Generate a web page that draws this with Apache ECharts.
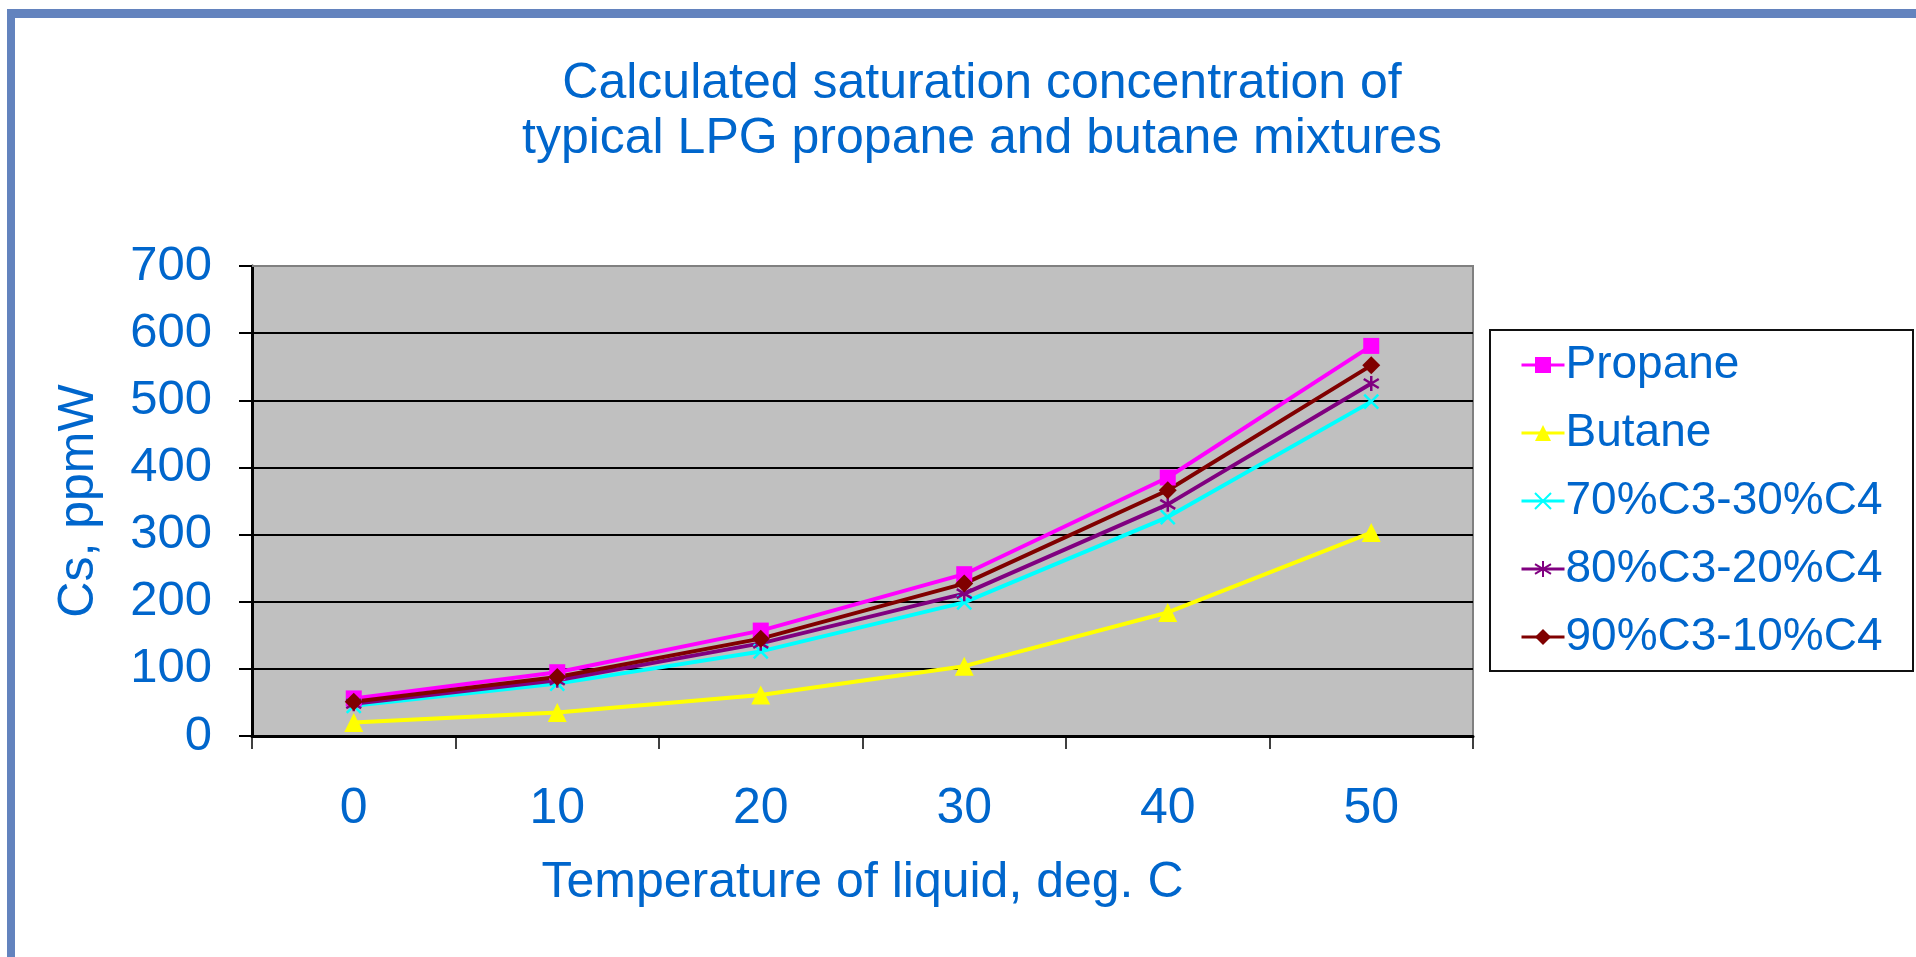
<!DOCTYPE html>
<html>
<head>
<meta charset="utf-8">
<title>LPG saturation concentration</title>
<script src="https://cdn.jsdelivr.net/npm/echarts@6/dist/echarts.min.js"></script>
<style>
  html, body { margin: 0; padding: 0; background: #fff; }
  #chart { width: 1916px; height: 957px; }
</style>
</head>
<body>
<div id="chart"></div>
<script>
// temperature of liquid, deg. C
const temps = ['0', '10', '20', '30', '40', '50']
// Cs, ppmW
const propane = [56, 95, 157, 241, 385, 581]
const butane = [20, 35, 61, 104, 184, 303]
const mix70 = [45, 78, 126, 199, 326, 498]
const mix80 = [48, 83, 138, 212, 345, 525]
const mix90 = [51, 88, 145, 227, 366, 552]

const blue = '#0066cc'
const font = "'Liberation Sans', Arial, sans-serif"

const chart = echarts.init(document.getElementById('chart'))

// one line series
function lineSeries(name, data, color, symbol, size, stroke) {
	return {
		name: name,
		type: 'line',
		data: data,
		symbol: symbol,
		symbolSize: size,
		lineStyle: { color: color, width: 4 },
		itemStyle: stroke
			? { color: color, borderColor: color, borderWidth: 2.5 }
			: { color: color },
		emphasis: { disabled: true },
		animation: false
	}
}

const option = {
	backgroundColor: '#fff',
	animation: false,
	graphic: [
		// blue frame, top and left
		{ type: 'rect', shape: { x: 7, y: 9, width: 1909, height: 9 }, style: { fill: '#6383be' } },
		{ type: 'rect', shape: { x: 7, y: 9, width: 8, height: 948 }, style: { fill: '#6383be' } },
		// title
		{
			type: 'text', x: 982, y: 57,
			style: {
				text: 'Calculated saturation concentration of\ntypical LPG propane and butane mixtures',
				font: '50px ' + font, fill: blue,
				textAlign: 'center', textVerticalAlign: 'top', lineHeight: 55
			}
		},
		// plot top border over the 700 grid line
		{ type: 'line', z: 100, shape: { x1: 252, y1: 266, x2: 1473, y2: 266 }, style: { stroke: '#808080', lineWidth: 2 } },
		// legend box
		{ type: 'rect', shape: { x: 1490, y: 330, width: 423, height: 341 }, style: { fill: '#fff', stroke: '#111', lineWidth: 2 } }
	],
	grid: {
		left: 252,
		right: 443,
		top: 266,
		bottom: 221,
		show: true,
		backgroundColor: '#c0c0c0',
		borderColor: '#808080',
		borderWidth: 2
	},
	legend: {
		orient: 'vertical',
		left: 1520,
		top: 342,
		padding: 0,
		itemWidth: 43,
		itemHeight: 20,
		itemGap: 22,
		lineStyle: { width: 3 },
		textStyle: { color: blue, fontSize: 46, fontFamily: font, padding: [0, 0, 0, -4] },
		data: ['Propane', 'Butane', '70%C3-30%C4', '80%C3-20%C4', '90%C3-10%C4']
	},
	xAxis: {
		type: 'category',
		data: temps,
		boundaryGap: true,
		name: 'Temperature of liquid, deg. C',
		nameLocation: 'middle',
		nameGap: 122,
		nameTextStyle: { color: blue, fontSize: 50, fontFamily: font },
		axisLine: { lineStyle: { color: '#000', width: 3 } },
		axisTick: { show: true, length: 13, lineStyle: { color: '#000', width: 1.5 } },
		axisLabel: { color: blue, fontSize: 50, fontFamily: font, margin: 48 },
		splitLine: { show: false }
	},
	yAxis: {
		type: 'value',
		min: 0,
		max: 700,
		interval: 100,
		name: 'Cs, ppmW',
		nameLocation: 'middle',
		nameGap: 148,
		nameTextStyle: { color: blue, fontSize: 50, fontFamily: font },
		axisLine: { show: true, lineStyle: { color: '#000', width: 3 } },
		axisTick: { show: true, length: 13, lineStyle: { color: '#000', width: 2 } },
		axisLabel: { color: blue, fontSize: 49, fontFamily: font, margin: 40 },
		splitLine: { show: true, lineStyle: { color: '#000', width: 2 } }
	},
	series: [
		lineSeries('Propane', propane, '#ff00ff', 'rect', 16),
		lineSeries('Butane', butane, '#ffff00', 'triangle', 19),
		lineSeries('70%C3-30%C4', mix70, '#00ffff', 'path://M0,0L10,10M10,0L0,10', 14, true),
		lineSeries('80%C3-20%C4', mix80, '#800080', 'path://M5,0L5,10M0,2L10,8M0,8L10,2', 15, true),
		lineSeries('90%C3-10%C4', mix90, '#800000', 'diamond', 18)
	]
}

chart.setOption(option)
</script>
</body>
</html>
